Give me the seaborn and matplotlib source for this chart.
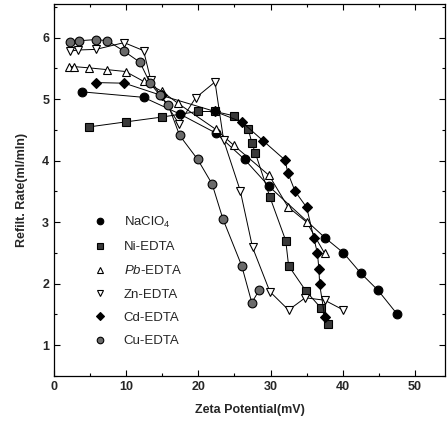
import pandas as pd
import seaborn as sns
import matplotlib.pyplot as plt
from matplotlib.lines import Line2D
from matplotlib.ticker import MultipleLocator

# datos
na_x = [3.8, 12.4, 17.4, 22.4, 26.4, 29.8, 37.5, 40.1, 42.5, 44.9, 47.5]
na_y = [5.12, 5.03, 4.76, 4.45, 4.02, 3.58, 2.75, 2.50, 2.17, 1.89, 1.51]

ni_x = [4.9, 9.9, 15.0, 19.9, 22.3, 24.9, 26.9, 27.4, 27.9, 29.9, 32.1, 32.5, 34.9, 37.0, 38.0]
ni_y = [4.55, 4.63, 4.71, 4.80, 4.80, 4.73, 4.52, 4.29, 4.12, 3.41, 2.70, 2.29, 1.88, 1.60, 1.35]

pb_x = [2.0, 2.75, 4.8, 7.4, 9.9, 12.4, 14.9, 17.2, 22.4, 24.9, 29.8, 32.4, 35.0, 37.5]
pb_y = [5.53, 5.53, 5.51, 5.48, 5.45, 5.29, 5.13, 4.93, 4.51, 4.25, 3.76, 3.25, 3.00, 2.49]

zn_x = [2.2, 3.3, 5.8, 9.7, 12.4, 13.4, 17.3, 19.6, 22.3, 23.5, 25.8, 27.5, 29.9, 32.5, 34.8, 37.5, 40.1]
zn_y = [5.78, 5.80, 5.81, 5.92, 5.79, 5.31, 4.60, 5.02, 5.28, 4.33, 3.51, 2.59, 1.87, 1.57, 1.77, 1.73, 1.57]

cd_x = [5.85, 9.75, 14.9, 22.3, 26.0, 29.0, 32.0, 32.4, 33.4, 35.0, 36.0, 36.5, 36.7, 36.8, 37.5]
cd_y = [5.27, 5.26, 5.06, 4.80, 4.63, 4.32, 4.01, 3.80, 3.50, 3.24, 2.74, 2.49, 2.23, 1.99, 1.46]

cu_x = [2.2, 3.4, 5.85, 7.4, 9.7, 11.9, 13.3, 14.7, 15.8, 17.4, 19.9, 21.9, 23.4, 26.0, 27.4, 28.4]
cu_y = [5.93, 5.95, 5.97, 5.95, 5.78, 5.60, 5.26, 5.06, 4.91, 4.41, 4.02, 3.62, 3.05, 2.29, 1.69, 1.89]

etiquetas = ['NaClO$_4$', 'Ni-EDTA', '$Pb$-EDTA', 'Zn-EDTA', 'Cd-EDTA', 'Cu-EDTA']

sns.set_theme(style='ticks')
plt.rcParams['font.family'] = ['Liberation Sans', 'DejaVu Sans']
plt.rcParams['mathtext.fontset'] = 'custom'
plt.rcParams['mathtext.rm'] = 'Liberation Sans'
plt.rcParams['mathtext.it'] = 'Liberation Sans:italic'

# estilo de cada serie: marcador, relleno, tamano
estilos = [
    ('o', 'black', 6.3),
    ('s', '#3a3a3a', 5.3),
    ('^', 'white', 5.8),
    ('v', 'white', 6.3),
    ('D', 'black', 5.3),
    ('o', '#6a6a6a', 6.3),
]
series = [(na_x, na_y), (ni_x, ni_y), (pb_x, pb_y), (zn_x, zn_y), (cd_x, cd_y), (cu_x, cu_y)]

fig = plt.figure(figsize=(4.47, 4.32), dpi=100)
ax = fig.add_axes([0.121, 0.130, 0.875, 0.861])

for (xs, ys), (m, fc, ms), lab in zip(series, estilos, etiquetas):
    df = pd.DataFrame({'x': xs, 'y': ys})
    sns.lineplot(data=df, x='x', y='y', ax=ax, sort=False, estimator=None,
                 color='black', linewidth=0.7, marker=m, markersize=ms,
                 markerfacecolor=fc, markeredgecolor='black', markeredgewidth=0.8)

ax.set_xlim(0, 54.2)
ax.set_ylim(0.5, 6.55)
ax.xaxis.set_major_locator(MultipleLocator(10))
ax.xaxis.set_minor_locator(MultipleLocator(5))
ax.yaxis.set_major_locator(MultipleLocator(1))
ax.yaxis.set_minor_locator(MultipleLocator(0.5))
ax.tick_params(which='both', direction='in', top=True, right=True, color='black', width=0.8)
ax.tick_params(which='major', length=4, labelsize=9)
ax.tick_params(which='minor', length=2)
for t in ax.get_xticklabels() + ax.get_yticklabels():
    t.set_fontweight('bold')
for s in ax.spines.values():
    s.set_color('black')
    s.set_linewidth(0.9)

ax.set_xlabel('Zeta Potential(mV)', fontsize=9, fontweight='bold', labelpad=8)
ax.set_ylabel('Refilt. Rate(ml/mln)', fontsize=9, fontweight='bold', labelpad=10)

handles = [Line2D([], [], ls='none', marker=m, markersize=ms * 0.75, markerfacecolor=fc,
                  markeredgecolor='black', markeredgewidth=0.8) for m, fc, ms in estilos]
ax.legend(handles, etiquetas, loc='upper left', bbox_to_anchor=(0.07, 0.465), frameon=False,
          fontsize=9.5, labelspacing=0.84, handletextpad=1.3, handlelength=1.0)

plt.savefig('out.png', dpi=100)
